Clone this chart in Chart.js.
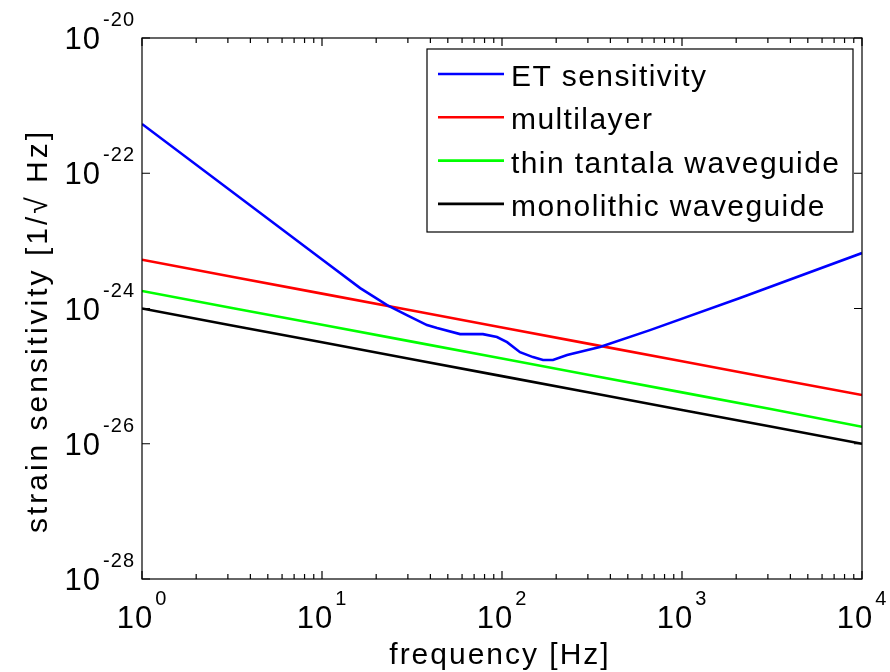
<!DOCTYPE html>
<html>
<head>
<meta charset="utf-8">
<script src="https://cdn.jsdelivr.net/npm/chart.js@4.4.1/dist/chart.umd.min.js"></script>
<style>
  body { margin: 0; background: #fff; }
  #wrap { width: 890px; height: 672px; }
</style>
</head>
<body>
<div id="wrap"><canvas id="plot"></canvas></div>
<script>
// values (Hz, 1/sqrt(Hz))
const freqET = [1, 10.1, 16.3, 23.0, 29.6, 38.3, 43.6, 58.5, 78.3, 93.8, 106.7, 125.9, 148.6, 169, 192, 230, 350, 664, 2100, 10000];
const etSensitivity = [5.35e-22, 5.2e-24, 2.0e-24, 1.12e-24, 7.98e-25, 5.68e-25, 5.13e-25, 4.18e-25, 4.18e-25, 3.78e-25, 3.18e-25, 2.26e-25, 1.91e-25, 1.73e-25, 1.73e-25, 2.05e-25, 2.69e-25, 4.79e-25, 1.43e-24, 6.6e-24];

const freqCoat = [1, 3.16, 10, 31.6, 100, 316, 1000, 3162, 10000];
const multilayer = [5.25e-24, 2.95e-24, 1.66e-24, 9.33e-25, 5.25e-25, 2.95e-25, 1.66e-25, 9.33e-26, 5.25e-26];
const thinTantala = [1.82e-24, 1.02e-24, 5.75e-25, 3.24e-25, 1.82e-25, 1.02e-25, 5.75e-26, 3.24e-26, 1.78e-26];
const monolithic = [1.0e-24, 5.62e-25, 3.16e-25, 1.78e-25, 1.0e-25, 5.62e-26, 3.16e-26, 1.78e-26, 1.0e-26];

const seriesNames = ['ET sensitivity', 'multilayer', 'thin tantala waveguide', 'monolithic waveguide'];
const seriesColors = ['#0000ff', '#ff0000', '#00ff00', '#000000'];

const xTickExp = [0, 1, 2, 3, 4];
const yTickExp = [-28, -26, -24, -22, -20];

const FONT = "'Liberation Sans', Arial, Helvetica, sans-serif";

function toPoints(xs, ys) {
    return xs.map((x, i) => ({ x: x, y: ys[i] }));
}

function makeSet(idx, xs, ys) {
    return {
        label: seriesNames[idx],
        data: toPoints(xs, ys),
        borderColor: seriesColors[idx],
        backgroundColor: seriesColors[idx],
        borderWidth: 2.6,
        pointRadius: 0,
        tension: 0,
        fill: false
    };
}

// draws "10" with a raised exponent, anchored by align
function drawPower(ctx, exp, x, y, align) {
    ctx.font = '31px ' + FONT;
    ctx.letterSpacing = '1px';
    let wBase = ctx.measureText('10').width;
    ctx.font = '20px ' + FONT;
    let expText = String(exp);
    let wExp = ctx.measureText(expText).width;
    let gap = 2;
    let total = wBase + gap + wExp;
    let left = align == 'center' ? x - total / 2 : x - total;
    ctx.textAlign = 'left';
    ctx.textBaseline = 'alphabetic';
    ctx.font = '31px ' + FONT;
    ctx.fillText('10', left, y);
    ctx.font = '20px ' + FONT;
    ctx.fillText(expText, left + wBase + gap, y - 23);
}

const axesPlugin = {
    id: 'matlabAxes',
    afterDatasetsDraw(chart) {
        const ctx = chart.ctx;
        const area = chart.chartArea;
        const xs = chart.scales.x;
        const ys = chart.scales.y;
        ctx.save();
        ctx.fillStyle = '#000';
        ctx.strokeStyle = '#000';
        ctx.lineWidth = 1.2;

        // box
        ctx.strokeRect(area.left, area.top, area.right - area.left, area.bottom - area.top);

        // x ticks, major and minor, inside on top and bottom
        ctx.beginPath();
        for (let e = 0; e < xTickExp.length; e++) {
            for (let m = 1; m <= 9; m++) {
                if (e == xTickExp.length - 1 && m > 1) break;
                let px = xs.getPixelForValue(m * Math.pow(10, xTickExp[e]));
                let len = m == 1 ? 8 : 5;
                ctx.moveTo(px, area.bottom);
                ctx.lineTo(px, area.bottom - len);
                ctx.moveTo(px, area.top);
                ctx.lineTo(px, area.top + len);
            }
        }
        // y ticks
        yTickExp.forEach(e => {
            let py = ys.getPixelForValue(Math.pow(10, e));
            ctx.moveTo(area.left, py);
            ctx.lineTo(area.left + 8, py);
            ctx.moveTo(area.right, py);
            ctx.lineTo(area.right - 8, py);
        });
        ctx.stroke();

        // tick labels
        xTickExp.forEach(e => {
            let px = xs.getPixelForValue(Math.pow(10, e));
            drawPower(ctx, e, px, area.bottom + 49, 'center');
        });
        yTickExp.forEach(e => {
            let py = ys.getPixelForValue(Math.pow(10, e));
            drawPower(ctx, e, area.left - 7, py + 11, 'right');
        });

        // axis titles
        ctx.font = '30px ' + FONT;
        ctx.letterSpacing = '2px';
        ctx.textAlign = 'center';
        ctx.textBaseline = 'alphabetic';
        ctx.fillText('frequency [Hz]', (area.left + area.right) / 2 - 2, 664);

        ctx.save();
        ctx.translate(47, 331);
        ctx.rotate(-Math.PI / 2);
        ctx.letterSpacing = '3px';
        ctx.fillText('strain sensitivity [1/\u221A Hz]', 0, 0);
        ctx.restore();

        // legend box
        let lx = 427, ly = 49, lw = 426, lh = 183;
        ctx.fillStyle = '#fff';
        ctx.fillRect(lx, ly, lw, lh);
        ctx.strokeStyle = '#000';
        ctx.lineWidth = 1.2;
        ctx.strokeRect(lx, ly, lw, lh);
        ctx.font = '30px ' + FONT;
        ctx.letterSpacing = '1.4px';
        ctx.textAlign = 'left';
        chart.data.datasets.forEach((ds, i) => {
            let rowY = 74 + i * 43.3;
            ctx.strokeStyle = ds.borderColor;
            ctx.lineWidth = 2.6;
            ctx.beginPath();
            ctx.moveTo(438, rowY);
            ctx.lineTo(504, rowY);
            ctx.stroke();
            ctx.fillStyle = '#000';
            ctx.fillText(ds.label, 511, rowY + 12);
        });
        ctx.restore();
    }
};

new Chart(document.getElementById('plot'), {
    type: 'line',
    data: {
        datasets: [
            makeSet(0, freqET, etSensitivity),
            makeSet(1, freqCoat, multilayer),
            makeSet(2, freqCoat, thinTantala),
            makeSet(3, freqCoat, monolithic)
        ]
    },
    options: {
        responsive: true,
        maintainAspectRatio: false,
        animation: false,
        layout: { padding: { left: 142, top: 38, right: 28, bottom: 93 } },
        scales: {
            x: { type: 'logarithmic', min: 1, max: 10000, display: false },
            y: { type: 'logarithmic', min: 1e-28, max: 1e-20, display: false }
        },
        plugins: {
            legend: { display: false },
            tooltip: { enabled: false }
        }
    },
    plugins: [axesPlugin]
});
</script>
</body>
</html>
